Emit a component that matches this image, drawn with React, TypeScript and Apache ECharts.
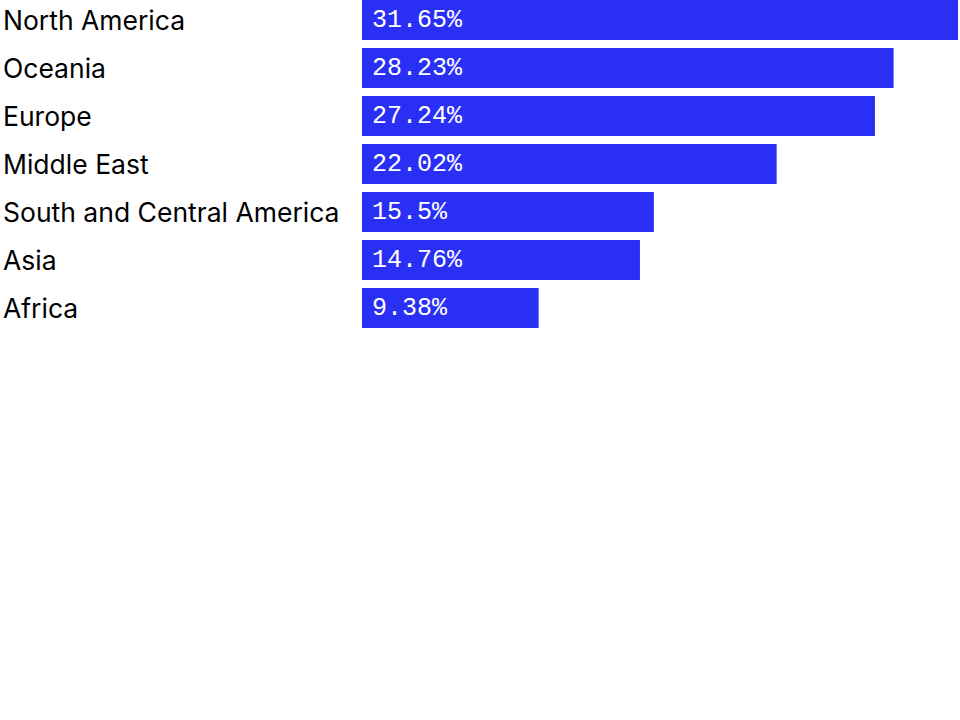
import React, { useEffect, useRef } from "react";
import * as echarts from "echarts";

const categories = [
  "North America",
  "Oceania",
  "Europe",
  "Middle East",
  "South and Central America",
  "Asia",
  "Africa",
];
const values = [31.65, 28.23, 27.24, 22.02, 15.5, 14.76, 9.38];

export default function App() {
  const ref = useRef<HTMLDivElement>(null);
  useEffect(() => {
    if (!ref.current) return;
    const chart = echarts.init(ref.current, undefined, { renderer: "svg" });
    chart.setOption({
      animation: false,
      grid: { left: 362, right: 2, top: 20, height: 288, containLabel: false },
      xAxis: {
        type: "value",
        min: 0,
        max: Math.max(...values),
        show: false,
      },
      yAxis: {
        type: "category",
        data: categories,
        inverse: true,
        boundaryGap: false,
        axisLine: { show: false },
        axisTick: { show: false },
        splitLine: { show: false },
        axisLabel: {
          align: "left",
          margin: 359,
          color: "#000000",
          fontSize: 26.5,
          fontFamily: "Inter, 'Liberation Sans', sans-serif",
        },
      },
      series: [
        {
          type: "bar",
          data: values,
          barWidth: 40,
          itemStyle: { color: "#2a2ff5" },
          label: {
            show: true,
            position: "insideLeft",
            distance: 10,
            color: "#ffffff",
            fontSize: 25,
            fontFamily: "'Liberation Mono', 'DejaVu Sans Mono', monospace",
            formatter: (p: any) => `${p.value}%`,
          },
        },
      ],
    });
    return () => chart.dispose();
  }, []);
  return (
    <div
      ref={ref}
      style={{ position: "fixed", left: 0, top: 0, width: 960, height: 720, background: "#fff" }}
    />
  );
}
